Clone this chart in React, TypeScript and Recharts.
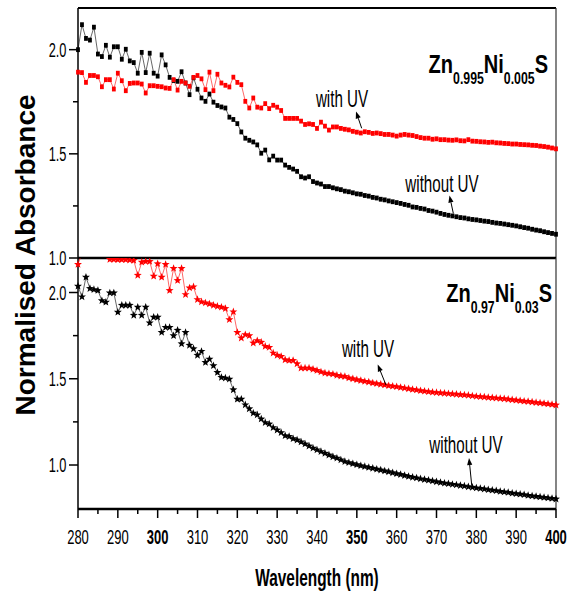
import { LineChart, Line, XAxis, YAxis, ReferenceLine } from 'recharts';

const wavelengths = [
  280, 281, 282, 283, 284, 285, 286, 287, 288, 289,
  290, 291, 292, 293, 294, 295, 296, 297, 298, 299,
  300, 301, 302, 303, 304, 305, 306, 307, 308, 309,
  310, 311, 312, 313, 314, 315, 316, 317, 318, 319,
  320, 321, 322, 323, 324, 325, 326, 327, 328, 329,
  330, 331, 332, 333, 334, 335, 336, 337, 338, 339,
  340, 341, 342, 343, 344, 345, 346, 347, 348, 349,
  350, 351, 352, 353, 354, 355, 356, 357, 358, 359,
  360, 361, 362, 363, 364, 365, 366, 367, 368, 369,
  370, 371, 372, 373, 374, 375, 376, 377, 378, 379,
  380, 381, 382, 383, 384, 385, 386, 387, 388, 389,
  390, 391, 392, 393, 394, 395, 396, 397, 398, 399,
  400,
];

// Zn0.995Ni0.005S
const topWithoutUV = [
  2.0, 2.12, 2.054, 2.046, 2.108, 1.979, 1.967, 2.021, 1.964, 2.014,
  2.014, 1.954, 2.002, 1.946, 1.938, 1.887, 1.987, 1.89, 1.983, 1.887,
  1.873, 1.975, 1.927, 1.867, 1.852, 1.848, 1.894, 1.84, 1.784, 1.865,
  1.81, 1.768, 1.752, 1.787, 1.748, 1.732, 1.725, 1.72, 1.676, 1.665,
  1.645, 1.605, 1.575, 1.565, 1.557, 1.543, 1.503, 1.518, 1.471, 1.489,
  1.47, 1.47, 1.446, 1.435, 1.427, 1.416, 1.39, 1.384, 1.39, 1.367,
  1.36, 1.355, 1.343, 1.343, 1.337, 1.332, 1.328, 1.321, 1.318, 1.313,
  1.308, 1.306, 1.3, 1.297, 1.291, 1.288, 1.282, 1.279, 1.274, 1.27,
  1.266, 1.262, 1.257, 1.253, 1.245, 1.243, 1.238, 1.235, 1.228, 1.225,
  1.22, 1.214, 1.209, 1.205, 1.202, 1.198, 1.194, 1.192, 1.188, 1.185,
  1.183, 1.18, 1.177, 1.175, 1.171, 1.168, 1.166, 1.163, 1.16, 1.157,
  1.154, 1.15, 1.146, 1.143, 1.138, 1.134, 1.131, 1.126, 1.122, 1.118,
  1.114,
];

const topWithUV = [
  1.892, 1.89, 1.843, 1.876, 1.876, 1.87, 1.822, 1.856, 1.856, 1.811,
  1.887, 1.851, 1.803, 1.838, 1.84, 1.84, 1.835, 1.792, 1.827, 1.827,
  1.824, 1.822, 1.816, 1.814, 1.856, 1.806, 1.848, 1.84, 1.824, 1.867,
  1.876, 1.86, 1.808, 1.892, 1.803, 1.882, 1.84, 1.829, 1.821, 1.868,
  1.843, 1.832, 1.752, 1.72, 1.768, 1.724, 1.72, 1.741, 1.717, 1.733,
  1.724, 1.708, 1.67, 1.67, 1.67, 1.67, 1.657, 1.641, 1.644, 1.641,
  1.622, 1.652, 1.633, 1.614, 1.629, 1.629, 1.622, 1.618, 1.615, 1.608,
  1.604, 1.6, 1.606, 1.603, 1.598, 1.6, 1.597, 1.593, 1.593, 1.59,
  1.585, 1.59, 1.593, 1.59, 1.588, 1.583, 1.578, 1.575, 1.575, 1.57,
  1.572, 1.568, 1.568, 1.566, 1.565, 1.567, 1.563, 1.562, 1.568, 1.561,
  1.56, 1.558, 1.557, 1.555, 1.556, 1.553, 1.552, 1.55, 1.549, 1.547,
  1.547, 1.545, 1.544, 1.543, 1.541, 1.54, 1.537, 1.535, 1.532, 1.528,
  1.524,
];

// Zn0.97Ni0.03S
const bottomWithoutUV = [
  2.037, 1.975, 2.089, 2.023, 2.017, 2.012, 1.953, 1.944, 1.998, 1.998,
  1.886, 1.926, 1.926, 1.926, 1.868, 1.915, 1.868, 1.915, 1.824, 1.857,
  1.857, 1.769, 1.798, 1.798, 1.75, 1.781, 1.703, 1.769, 1.694, 1.674,
  1.636, 1.659, 1.595, 1.614, 1.576, 1.537, 1.508, 1.504, 1.498, 1.436,
  1.382, 1.382, 1.349, 1.326, 1.301, 1.291, 1.267, 1.246, 1.238, 1.217,
  1.203, 1.188, 1.17, 1.165, 1.153, 1.145, 1.134, 1.122, 1.11, 1.098,
  1.088, 1.078, 1.068, 1.058, 1.048, 1.04, 1.03, 1.02, 1.014, 1.008,
  1.002, 0.996, 0.991, 0.986, 0.981, 0.976, 0.971, 0.966, 0.961, 0.955,
  0.95, 0.945, 0.939, 0.934, 0.929, 0.925, 0.92, 0.916, 0.912, 0.908,
  0.903, 0.899, 0.895, 0.892, 0.888, 0.885, 0.881, 0.878, 0.874, 0.871,
  0.867, 0.864, 0.861, 0.857, 0.854, 0.851, 0.847, 0.844, 0.841, 0.837,
  0.834, 0.831, 0.828, 0.824, 0.821, 0.818, 0.815, 0.812, 0.809, 0.806,
  0.803,
];

const bottomWithUV = [
  2.163, 2.23, 2.23, 2.23, 2.23, 2.23, 2.23, 2.23, 2.192, 2.192,
  2.19, 2.19, 2.19, 2.188, 2.186, 2.1, 2.176, 2.18, 2.18, 2.095,
  2.167, 2.089, 2.163, 2.012, 2.14, 2.07, 2.14, 1.988, 2.027, 2.033,
  1.959, 1.946, 1.94, 1.934, 1.926, 1.92, 1.915, 1.907, 1.843, 1.888,
  1.769, 1.736, 1.756, 1.75, 1.707, 1.721, 1.712, 1.688, 1.682, 1.649,
  1.636, 1.63, 1.61, 1.606, 1.606, 1.587, 1.562, 1.562, 1.562, 1.555,
  1.548, 1.54, 1.533, 1.53, 1.527, 1.52, 1.516, 1.513, 1.505, 1.5,
  1.495, 1.49, 1.485, 1.481, 1.476, 1.472, 1.468, 1.464, 1.46, 1.457,
  1.454, 1.45, 1.446, 1.442, 1.438, 1.435, 1.431, 1.428, 1.425, 1.422,
  1.42, 1.418, 1.416, 1.414, 1.412, 1.41, 1.408, 1.406, 1.404, 1.401,
  1.398, 1.396, 1.394, 1.392, 1.39, 1.388, 1.386, 1.384, 1.381, 1.378,
  1.376, 1.373, 1.37, 1.368, 1.365, 1.362, 1.36, 1.357, 1.354, 1.351,
  1.348,
];

const xTicks = [280, 285, 290, 295, 300, 305, 310, 315, 320, 325, 330, 335, 340, 345, 350, 355, 360, 365, 370, 375, 380, 385, 390, 395, 400];
const yTicks = [1.0, 1.25, 1.5, 1.75, 2.0];

const topData = wavelengths.map((w, i) => ({ w, noUV: topWithoutUV[i], uv: topWithUV[i] }));
const bottomData = wavelengths.map((w, i) => ({ w, noUV: bottomWithoutUV[i], uv: bottomWithUV[i] }));

const SANS = "'Liberation Sans', Arial, sans-serif";
const RED = '#ff0000';

// Liberation Sans squeezed horizontally, the reference uses a tall condensed face
function Narrow({ x, y, size, bold, anchor = 'middle', dy, sx = 0.66, children }: any) {
  return (
    <text
      transform={`translate(${x},${y}) scale(${sx},1)`}
      textAnchor={anchor}
      dy={dy}
      fontSize={size}
      fontWeight={bold ? 'bold' : 'normal'}
      fontFamily={SANS}
      fill="#000"
    >
      {children}
    </text>
  );
}

function YTick(props: any) {
  const { x, y, payload } = props;
  const v = payload.value;
  const major = Math.abs(v * 2 - Math.round(v * 2)) < 1e-6;
  return (
    <g>
      <line x1={x - (major ? 9 : 5)} x2={x} y1={y} y2={y} stroke="#000" strokeWidth={1.5} />
      {major && (
        <Narrow x={x - 11.5} y={y} dy="0.36em" size={20} sx={0.64} anchor="end">
          {v.toFixed(1)}
        </Narrow>
      )}
    </g>
  );
}

function XTick(props: any) {
  const { x, y, payload } = props;
  const v = payload.value;
  const major = v % 10 === 0;
  return (
    <g>
      <line x1={x} x2={x} y1={y} y2={y + (major ? 9 : 5)} stroke="#000" strokeWidth={1.5} />
      {major && (
        <Narrow x={x} y={y + 35} size={20} sx={0.65} bold={v % 50 === 0}>
          {v}
        </Narrow>
      )}
    </g>
  );
}

const squareDot = (color: string) => (props: any) => {
  const { cx, cy, index } = props;
  if (cx == null || cy == null) return <g key={index} />;
  return <rect key={index} x={cx - 1.9} y={cy - 2.4} width={3.8} height={4.8} fill={color} />;
};

function starPath(cx: number, cy: number, r: number) {
  const pts: string[] = [];
  for (let k = 0; k < 10; k++) {
    const rad = k % 2 === 0 ? r : r * 0.42;
    const a = -Math.PI / 2 + (k * Math.PI) / 5;
    pts.push(`${(cx + rad * Math.cos(a)).toFixed(2)},${(cy + rad * Math.sin(a)).toFixed(2)}`);
  }
  return `M${pts.join('L')}Z`;
}

const starDot = (color: string) => (props: any) => {
  const { cx, cy, index } = props;
  if (cx == null || cy == null) return <g key={index} />;
  return <path key={index} d={starPath(cx, cy, 4.2)} fill={color} />;
};

function Arrow({ x1, y1, x2, y2 }: { x1: number; y1: number; x2: number; y2: number }) {
  // head at (x2, y2)
  const a = Math.atan2(y2 - y1, x2 - x1);
  const len = 7;
  const w = 2.6;
  const bx = x2 - len * Math.cos(a);
  const by = y2 - len * Math.sin(a);
  const px = -Math.sin(a) * w;
  const py = Math.cos(a) * w;
  return (
    <g>
      <line x1={x1} y1={y1} x2={bx} y2={by} stroke="#000" strokeWidth={1} />
      <polygon points={`${x2},${y2} ${bx + px},${by + py} ${bx - px},${by - py}`} fill="#000" />
    </g>
  );
}

function Formula({ x, y, zn, ni }: { x: number; y: number; zn: string; ni: string }) {
  return (
    <text transform={`translate(${x},${y}) scale(0.77,1)`} textAnchor="end" fontWeight="bold" fontFamily={SANS} fill="#000" fontSize={26}>
      Zn<tspan fontSize={16} dy={11}>{zn}</tspan>
      <tspan dy={-11}>Ni</tspan>
      <tspan fontSize={16} dy={11}>{ni}</tspan>
      <tspan dy={-11}>S</tspan>
    </text>
  );
}

export default function App() {
  return (
    <div style={{ position: 'absolute', left: 0, top: 0, width: 568, height: 592, background: '#fff' }}>
      <div style={{ position: 'absolute', left: 0, top: 0 }}>
        <LineChart width={568} height={280} data={topData} margin={{ top: 8, right: 12, bottom: 22, left: 0 }}>
          <XAxis dataKey="w" type="number" domain={[280, 400]} hide />
          <YAxis
            domain={[1.0, 2.2]}
            ticks={yTicks}
            interval={0}
            width={78}
            tickSize={0}
            tickMargin={0}
            tickLine={false}
            tick={<YTick />}
            axisLine={{ stroke: '#000', strokeWidth: 1.5 }}
          />
          <ReferenceLine y={2.2} stroke="#000" strokeWidth={2} ifOverflow="visible" />
          <ReferenceLine x={400} stroke="#333" strokeWidth={1.2} ifOverflow="visible" />
          <Line dataKey="noUV" stroke="#000" strokeWidth={0.6} dot={squareDot('#000')} activeDot={false} isAnimationActive={false} />
          <Line dataKey="uv" stroke={RED} strokeWidth={0.6} dot={squareDot(RED)} activeDot={false} isAnimationActive={false} />
        </LineChart>
      </div>
      <div style={{ position: 'absolute', left: 0, top: 248 }}>
        <LineChart width={568} height={344} data={bottomData} margin={{ top: 10, right: 12, bottom: 0, left: 0 }}>
          <XAxis
            dataKey="w"
            type="number"
            domain={[280, 400]}
            ticks={xTicks}
            interval={0}
            height={83}
            tickSize={0}
            tickMargin={0}
            tickLine={false}
            tick={<XTick />}
            axisLine={{ stroke: '#000', strokeWidth: 2.5 }}
          />
          <YAxis
            domain={[0.745, 2.2]}
            allowDataOverflow
            ticks={yTicks}
            interval={0}
            width={78}
            tickSize={0}
            tickMargin={0}
            tickLine={false}
            tick={<YTick />}
            axisLine={{ stroke: '#000', strokeWidth: 1.5 }}
          />
          <ReferenceLine y={2.2} stroke="#000" strokeWidth={2.5} ifOverflow="visible" />
          <ReferenceLine x={400} stroke="#333" strokeWidth={1.2} ifOverflow="visible" />
          <Line dataKey="noUV" stroke="#000" strokeWidth={0.6} dot={starDot('#000')} activeDot={false} isAnimationActive={false} />
          <Line dataKey="uv" stroke={RED} strokeWidth={0.6} dot={starDot(RED)} activeDot={false} isAnimationActive={false} />
        </LineChart>
      </div>
      <svg width={568} height={592} style={{ position: 'absolute', left: 0, top: 0, pointerEvents: 'none' }}>
        <text transform="translate(35,255) rotate(-90)" textAnchor="middle" fontSize={28} fontWeight="bold" fontFamily={SANS} fill="#000">
          Normalised Absorbance
        </text>
        <Narrow x={317} y={586} size={23} sx={0.67} bold>
          Wavelength (nm)
        </Narrow>

        <Formula x={548} y={73} zn="0.995" ni="0.005" />
        <Formula x={552} y={302} zn="0.97" ni="0.03" />

        <Narrow x={342} y={106.5} size={23}>with UV</Narrow>
        <Arrow x1={361.7} y1={128.3} x2={356} y2={111.5} />
        <Narrow x={442} y={191.5} size={23}>without UV</Narrow>
        <Arrow x1={453.3} y1={213.3} x2={449.5} y2={195.5} />

        <Narrow x={368} y={356.5} size={23}>with UV</Narrow>
        <Arrow x1={386} y1={385} x2={377.7} y2={364.5} />
        <Narrow x={466} y={453} size={23}>without UV</Narrow>
        <Arrow x1={471.7} y1={485} x2={469} y2={458} />
      </svg>
    </div>
  );
}
